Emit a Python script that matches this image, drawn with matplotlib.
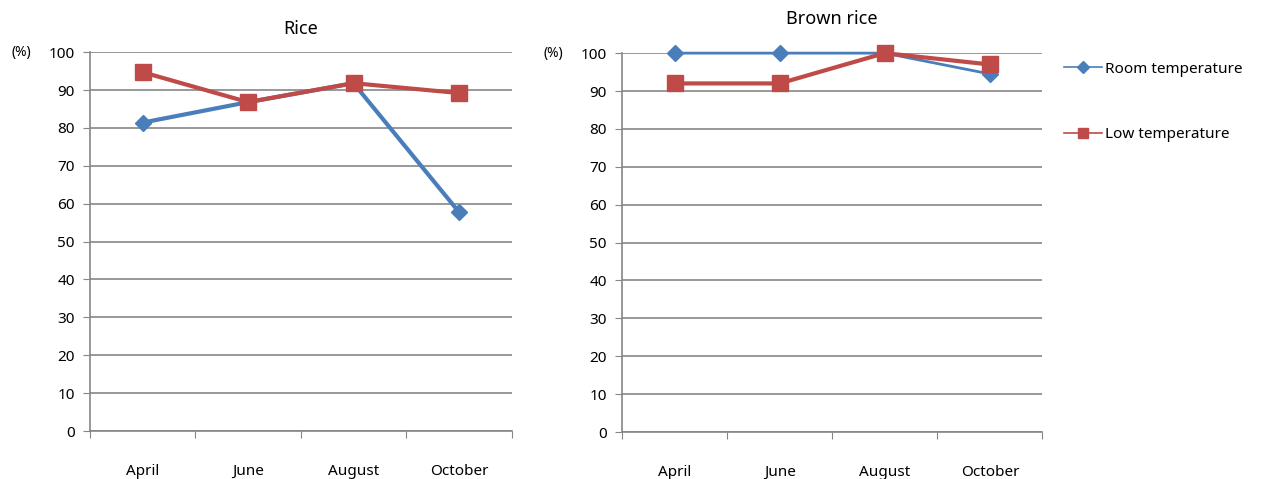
import matplotlib.pyplot as plt
from matplotlib.lines import Line2D

plt.rcParams['font.family'] = ['Noto Sans', 'DejaVu Sans']

months = ['April', 'June', 'August', 'October']
rice_room = [81.4, 86.8, 91.8, 57.8]
rice_low = [94.7, 86.8, 91.8, 89.2]
brown_room = [100, 100, 100, 94.5]
brown_low = [92, 92, 100, 97]

blue = '#4A7EBB'
red = '#BE4B48'
grey = '#868686'

fig = plt.figure(figsize=(12.74, 4.79), dpi=100)
ax1 = fig.add_axes([0.0706, 0.1002, 0.331, 0.791])
ax2 = fig.add_axes([0.4882, 0.0981, 0.330, 0.791])


def style(ax, title, title_y):
    x = range(len(months))
    ax.set_xlim(-0.5, len(months) - 0.5)
    ax.set_ylim(0, 100)
    ax.set_yticks(range(0, 101, 10))
    ax.yaxis.grid(True, color=grey, lw=1.2)
    ax.set_axisbelow(True)
    ax.set_xticks([i - 0.5 for i in range(len(months) + 1)])
    ax.set_xticklabels([])
    ax.set_xticks(list(x), minor=True)
    ax.set_xticklabels(months, minor=True)
    ax.tick_params(axis='x', which='major', length=5, direction='out', color=grey)
    ax.tick_params(axis='x', which='minor', length=0, pad=24, labelsize=11)
    ax.tick_params(axis='y', length=5, color=grey, labelsize=11, pad=6)
    for s in ['top', 'right']:
        ax.spines[s].set_visible(False)
    for s in ['left', 'bottom']:
        ax.spines[s].set_color(grey)
        ax.spines[s].set_linewidth(1.2)
    ax.set_title(title, fontsize=13, y=title_y)
    ax.text(-0.14, 1.0, '(%)', transform=ax.transAxes, fontsize=10,
            ha='right', va='center')


style(ax1, 'Rice', 1.027)
style(ax2, 'Brown rice', 1.055)

x = range(len(months))
ax1.plot(x, rice_room, color=blue, lw=3, marker='D', ms=8, zorder=3, clip_on=False)
ax1.plot(x, rice_low, color=red, lw=3, marker='s', ms=12, zorder=4, clip_on=False)
ax2.plot(x, brown_room, color=blue, lw=2, marker='D', ms=8, zorder=3, clip_on=False)
ax2.plot(x, brown_low, color=red, lw=3, marker='s', ms=12, zorder=4, clip_on=False)

handles = [
    Line2D([], [], color=blue, lw=1.2, marker='D', ms=6, label='Room temperature'),
    Line2D([], [], color=red, lw=1.2, marker='s', ms=7, label='Low temperature'),
]
fig.legend(handles=handles, loc='upper left', bbox_to_anchor=(0.824, 0.9),
           frameon=False, fontsize=11, labelspacing=3.3, handlelength=2.5,
           handletextpad=0.2)

fig.savefig('out.png', dpi=100)
